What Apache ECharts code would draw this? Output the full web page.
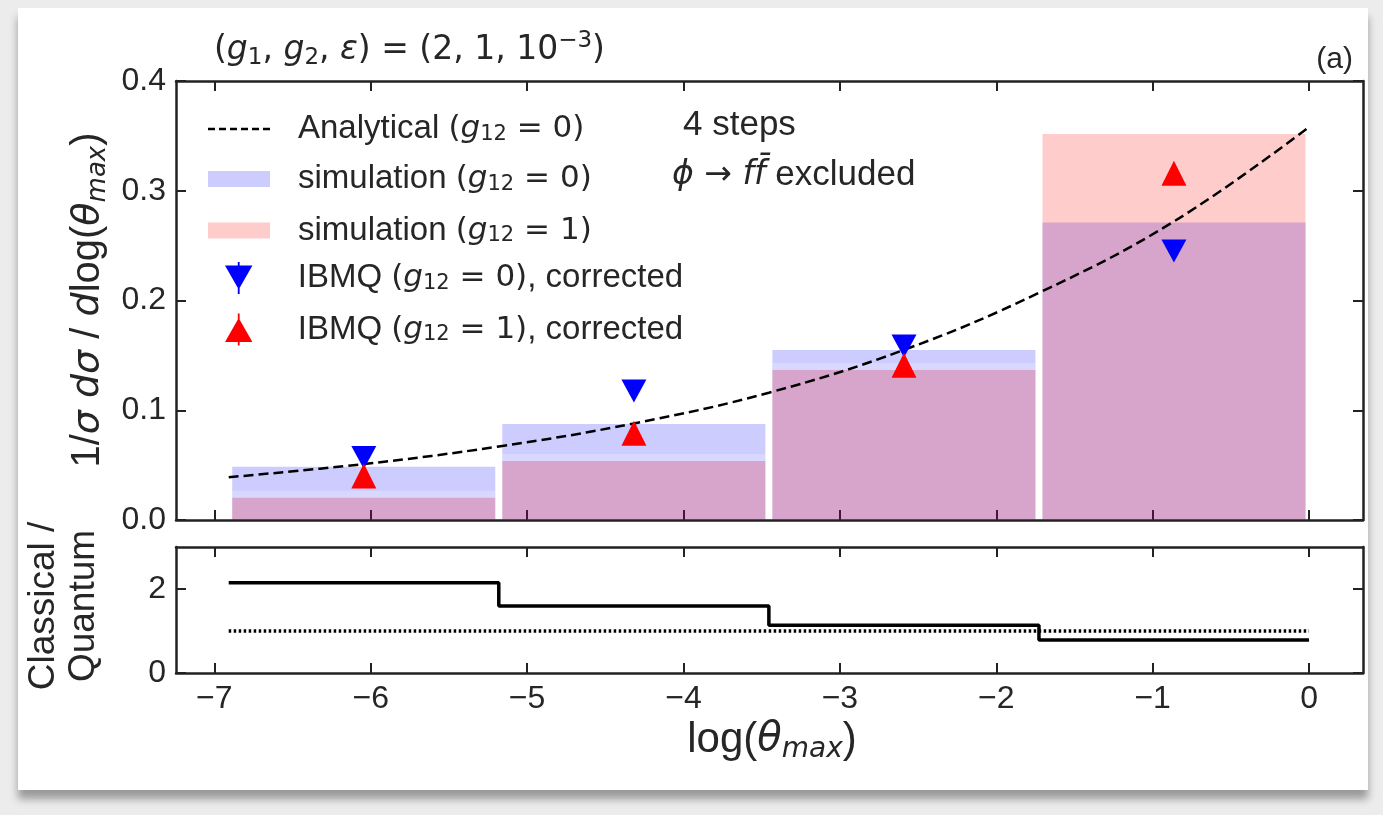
<!DOCTYPE html>
<html>
<head>
<meta charset="utf-8">
<title>Classical vs quantum</title>
<script src="https://cdn.jsdelivr.net/npm/echarts@6.0.0/dist/echarts.min.js"></script>
<style>
  html, body { margin: 0; padding: 0; background: #ececec; }
  #card { position: absolute; left: 18px; top: 8px; width: 1350px; height: 782px; background: #fff;
          box-shadow: 0 9px 8px rgba(0,0,0,0.35); }
  #main { position: absolute; left: 0; top: 0; width: 1383px; height: 815px; }
</style>
</head>
<body>
<div id="card"></div>
<div id="main"></div>
<script>
// bins in log(theta_max)
const binEdges = [-6.908, -5.181, -3.454, -1.727, 0];
const binCenters = [-6.044, -4.317, -2.590, -0.864];
// simulation histograms
const simG0 = [0.0486, 0.0875, 0.155, 0.271];
const simG1 = [0.0203, 0.0538, 0.1367, 0.3517];
// IBMQ corrected points
const ibmqG0 = [0.057, 0.1175, 0.1585, 0.245];
const ibmqG1 = [0.040, 0.079, 0.141, 0.316];
// analytical curve
const analyticX = [-6.908, -6.044, -5.181, -4.317, -3.454, -2.590, -1.727, -0.864, 0];
const analyticY = [0.039, 0.051, 0.067, 0.088, 0.116, 0.155, 0.207, 0.272, 0.358];
// lower panel
const ratio = [2.15, 1.595, 1.135, 0.786];
const xTicks = [-7, -6, -5, -4, -3, -2, -1, 0];
const yTicksTop = [0, 0.1, 0.2, 0.3, 0.4];
const yTicksBottom = [0, 2];

const TXT = '#262626';
const LINE = '#222';
const SANS = '"Liberation Sans", Arial, sans-serif';
const MATH = '"DejaVu Sans", sans-serif';

const chart = echarts.init(document.getElementById('main'), null, { renderer: 'canvas' });

const histData = (vals) => vals.map((v, i) => [binEdges[i], binEdges[i + 1], v]);

function barItem(fill, band) {
  return function (params, api) {
    const p0 = api.coord([api.value(0), api.value(2)]);
    const p1 = api.coord([api.value(1), 0]);
    const children = [{
      type: 'rect',
      shape: { x: p0[0] + 3.5, y: p0[1], width: p1[0] - p0[0] - 7, height: p1[1] - p0[1] },
      style: { fill: fill }
    }];
    if (band) {
      children.push({
        type: 'rect',
        shape: { x: p0[0] + 3.5, y: p0[1] - 7, width: p1[0] - p0[0] - 7, height: 7 },
        style: { fill: 'rgba(255,255,255,0.22)' }
      });
    }
    return { type: 'group', children: children };
  };
}

const minus = (v) => (v < 0 ? '\u2212' + (-v) : String(v));

const tickStyle = { color: LINE, width: 2 };
const axisCommon = {
  type: 'value',
  min: -7.245,
  max: 0.345,
  axisLine: { show: true, onZero: false, lineStyle: { color: LINE, width: 2.5 } },
  axisTick: { show: true, inside: true, length: 10, customValues: xTicks, lineStyle: tickStyle },
  axisLabel: { show: false },
  splitLine: { show: false }
};

function yAxisOf(grid, pos, max, ticks, label) {
  return {
    type: 'value', gridIndex: grid, position: pos, min: 0, max: max,
    axisLine: { show: true, onZero: false, lineStyle: { color: LINE, width: 2.5 } },
    axisTick: { show: true, inside: true, length: 10, customValues: ticks, lineStyle: tickStyle },
    axisLabel: label ? Object.assign({ customValues: ticks, margin: 10, fontFamily: SANS, fontSize: 32, color: TXT }, label)
                     : { show: false },
    splitLine: { show: false }
  };
}

const mathRich = {
  t: { fontFamily: SANS, fontSize: 33, color: TXT },
  m: { fontFamily: MATH, fontSize: 31, color: TXT },
  i: { fontFamily: MATH, fontStyle: 'italic', fontSize: 31, color: TXT },
  s: { fontFamily: MATH, fontSize: 21, color: TXT, verticalAlign: 'bottom', lineHeight: 32, padding: [12, 0, 0, 0] }
};

const legendNames = {
  'Analytical': '{t|Analytical }{m|(}{i|g}{s|12}{m| = 0)}',
  'sim0': '{t|simulation }{m|(}{i|g}{s|12}{m| = 0)}',
  'sim1': '{t|simulation }{m|(}{i|g}{s|12}{m| = 1)}',
  'ibmq0': '{t|IBMQ }{m|(}{i|g}{s|12}{m| = 0)}{t|, corrected}',
  'ibmq1': '{t|IBMQ }{m|(}{i|g}{s|12}{m| = 1)}{t|, corrected}'
};

const legendBase = {
  orient: 'vertical',
  left: 203,
  itemWidth: 62,
  itemGap: 18,
  selectedMode: false,
  formatter: (name) => legendNames[name],
  textStyle: { color: TXT, fontSize: 33, lineHeight: 32, padding: [0, 0, 0, 23], rich: mathRich }
};

const dashIcon = 'path://M0,0 h7 v2.5 h-7 Z M11,0 h7 v2.5 h-7 Z M22,0 h7 v2.5 h-7 Z M33,0 h7 v2.5 h-7 Z M44,0 h7 v2.5 h-7 Z M55,0 h7 v2.5 h-7 Z';

const option = {
  animation: false,
  backgroundColor: 'transparent',
  grid: [
    { left: 176, top: 81, width: 1187, height: 439 },
    { left: 176, top: 547, width: 1187, height: 126 }
  ],
  legend: [
    Object.assign({}, legendBase, { top: 107, itemHeight: 16, data: [
      { name: 'Analytical', icon: dashIcon, itemStyle: { color: '#000' } }] }),
    Object.assign({}, legendBase, { top: 157, itemHeight: 16, data: [
      { name: 'sim0', icon: 'rect' }, { name: 'sim1', icon: 'rect' }] }),
    Object.assign({}, legendBase, { top: 256, left: 220, itemHeight: 32, itemGap: 18, data: [
      { name: 'ibmq0', icon: 'path://M0,5 L24,5 L12,26 Z M11.2,2 L12.8,2 L12.8,30 L11.2,30 Z' },
      { name: 'ibmq1', icon: 'path://M0,27 L12,6 L24,27 Z M11.2,2 L12.8,2 L12.8,30 L11.2,30 Z' }] })
  ],
  xAxis: [
    Object.assign({}, axisCommon, { gridIndex: 0, position: 'bottom' }),
    Object.assign({}, axisCommon, { gridIndex: 0, position: 'top' }),
    Object.assign({}, axisCommon, {
      gridIndex: 1, position: 'bottom',
      axisLabel: { show: true, customValues: xTicks, formatter: minus, margin: 10,
                   fontFamily: SANS, fontSize: 32, color: TXT }
    }),
    Object.assign({}, axisCommon, { gridIndex: 1, position: 'top' })
  ],
  yAxis: [
    yAxisOf(0, 'left', 0.4, yTicksTop, { formatter: (v) => v.toFixed(1) }),
    yAxisOf(0, 'right', 0.4, yTicksTop, null),
    yAxisOf(1, 'left', 3, yTicksBottom, {}),
    yAxisOf(1, 'right', 3, yTicksBottom, null)
  ],
  series: [
    { name: 'sim0', type: 'custom', xAxisIndex: 0, yAxisIndex: 0, z: 1,
      itemStyle: { color: 'rgba(0,0,255,0.2)' },
      renderItem: barItem('rgba(0,0,255,0.2)', false), data: histData(simG0) },
    { name: 'sim1', type: 'custom', xAxisIndex: 0, yAxisIndex: 0, z: 2,
      itemStyle: { color: 'rgba(255,0,0,0.2)' },
      renderItem: barItem('rgba(255,0,0,0.2)', true), data: histData(simG1) },
    { name: 'Analytical', type: 'line', xAxisIndex: 0, yAxisIndex: 0, z: 3,
      smooth: 0.4, symbol: 'none', color: '#000',
      lineStyle: { color: '#000', width: 2.5, type: [10, 5] },
      data: analyticX.map((x, i) => [x, analyticY[i]]) },
    { name: 'ibmq0', type: 'scatter', xAxisIndex: 0, yAxisIndex: 0, z: 4,
      symbol: 'path://M0,0 L20,0 L10,18 Z', symbolSize: [25, 23],
      itemStyle: { color: '#0000ff', opacity: 1 },
      data: binCenters.map((x, i) => [x, ibmqG0[i]]) },
    { name: 'ibmq1', type: 'scatter', xAxisIndex: 0, yAxisIndex: 0, z: 5,
      symbol: 'path://M0,18 L20,18 L10,0 Z', symbolSize: [25, 25],
      itemStyle: { color: '#ff0000', opacity: 1 },
      data: binCenters.map((x, i) => [x, ibmqG1[i]]) },
    { name: 'ratio', type: 'line', xAxisIndex: 2, yAxisIndex: 2, step: 'end', symbol: 'none',
      lineStyle: { color: '#000', width: 3.5 },
      data: binEdges.map((x, i) => [x, ratio[Math.min(i, ratio.length - 1)]]) },
    { name: 'unity', type: 'line', xAxisIndex: 2, yAxisIndex: 2, symbol: 'none',
      lineStyle: { color: '#000', width: 3.5, type: [2.5, 2.5] },
      data: [[binEdges[0], 1], [binEdges[binEdges.length - 1], 1]] }
  ],
  graphic: [
    { type: 'text', left: 214, top: 30, style: {
        rich: {
          m: { fontFamily: MATH, fontSize: 33, fill: TXT },
          i: { fontFamily: MATH, fontStyle: 'italic', fontSize: 33, fill: TXT },
          s: { fontFamily: MATH, fontSize: 23, fill: TXT, verticalAlign: 'bottom', lineHeight: 40, padding: [15, 0, 0, 0] },
          u: { fontFamily: MATH, fontSize: 23, fill: TXT, verticalAlign: 'top', lineHeight: 40, padding: [0, 0, 15, 0] }
        },
        text: '{m|(}{i|g}{s|1}{m|, }{i|g}{s|2}{m|, }{i|ε}{m|) = (2, 1, 10}{u|\u22123}{m|)}'
    } },
    { type: 'text', right: 30, top: 45, style: { text: '(a)', font: '30px ' + SANS, fill: TXT } },
    { type: 'text', left: 683, top: 108, style: { text: '4 steps', font: '35px ' + SANS, fill: TXT } },
    { type: 'text', left: 672, top: 158, style: {
        rich: {
          i: { fontFamily: MATH, fontStyle: 'italic', fontSize: 33, fill: TXT },
          m: { fontFamily: MATH, fontSize: 33, fill: TXT },
          t: { fontFamily: SANS, fontSize: 35, fill: TXT }
        },
        text: '{i|\u03d5}{m| \u2192 }{i|f}{i|f\u0304}{t| excluded}'
    } },
    { type: 'text', x: 88, y: 300, rotation: Math.PI / 2, style: {
        align: 'center', verticalAlign: 'middle',
        rich: {
          t: { fontFamily: SANS, fontSize: 40, fill: TXT },
          i: { fontFamily: MATH, fontStyle: 'italic', fontSize: 38, fill: TXT },
          s: { fontFamily: MATH, fontStyle: 'italic', fontSize: 26, fill: TXT, verticalAlign: 'bottom', lineHeight: 46, padding: [17, 0, 0, 0] }
        },
        text: '{t|1/}{i|\u03c3 d\u03c3}{t| / }{i|d}{t|log(}{i|\u03b8}{s|max}{t|)}'
    } },
    { type: 'text', x: 64, y: 606, rotation: Math.PI / 2, style: {
        align: 'center', verticalAlign: 'middle', text: 'Classical /\nQuantum',
        font: '37px ' + SANS, lineHeight: 40, fill: TXT
    } },
    { type: 'text', x: 772, y: 740, style: {
        align: 'center', verticalAlign: 'middle',
        rich: {
          t: { fontFamily: SANS, fontSize: 42, fill: TXT },
          i: { fontFamily: MATH, fontStyle: 'italic', fontSize: 40, fill: TXT },
          s: { fontFamily: MATH, fontStyle: 'italic', fontSize: 28, fill: TXT, verticalAlign: 'bottom', lineHeight: 48, padding: [18, 0, 0, 0] }
        },
        text: '{t|log(}{i|\u03b8}{s|max}{t|)}'
    } }
  ]
};

chart.setOption(option);
</script>
</body>
</html>
